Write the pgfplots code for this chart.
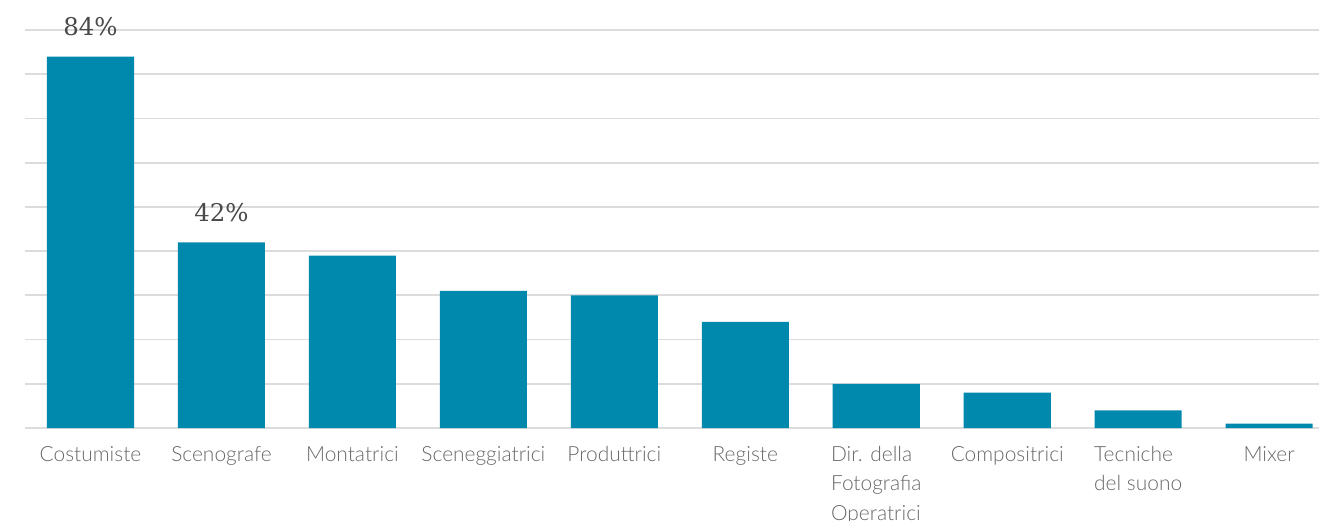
\documentclass[border=0pt]{standalone}
\usepackage{pgfplots}
\pgfplotsset{compat=1.18}
\usepackage{fontspec}
\setmainfont{Lato}
\newfontfamily\lab{Lato}[UprightFont={* Light}]
\newfontfamily\num{DejaVu Serif}
\definecolor{barc}{HTML}{0089AD}
\definecolor{gridc}{HTML}{DCDCDC}
\definecolor{lbl}{HTML}{686868}
\definecolor{numc}{HTML}{4A4A4A}
\begin{document}
\begin{tikzpicture}
\begin{axis}[
  at={(25bp,93bp)}, anchor=south west,
  width=1294bp, height=398bp, scale only axis,
  xmin=-0.5, xmax=9.38, ymin=0, ymax=90,
  ytick={0,10,...,90}, yticklabels={},
  ymajorgrids, grid style={gridc, line width=1.8bp},
  axis line style={draw=none},
  major tick length=0,
  clip=false,
  xtick={0,...,9},
  xticklabels={Costumiste, Scenografe, Montatrici, Sceneggiatrici, Produttrici, Registe, {Dir. della\\Fotografia\\Operatrici}, Compositrici, {Tecniche\\del suono}, Mixer},
  xticklabel style={font=\lab\fontsize{21}{29.5}\selectfont, text=lbl, align=left, anchor=north, inner sep=0pt, yshift=-18bp},
  ybar, bar width=0.665,
  nodes near coords, point meta=explicit symbolic,
  every node near coord/.append style={font=\num\fontsize{24.5}{28}\selectfont, text=numc, anchor=base, inner sep=0pt, yshift=21bp},
]
\addplot[fill=barc, draw=none] coordinates {
(0,84) [84\%]
(1,42) [42\%]
(2,39) []
(3,31) []
(4,30) []
(5,24) []
(6,10) []
(7,8) []
(8,4) []
(9,1) []
};
\end{axis}
\pgfresetboundingbox
\path[use as bounding box] (0,0) rectangle (1319bp,521bp);
\end{tikzpicture}
\end{document}
